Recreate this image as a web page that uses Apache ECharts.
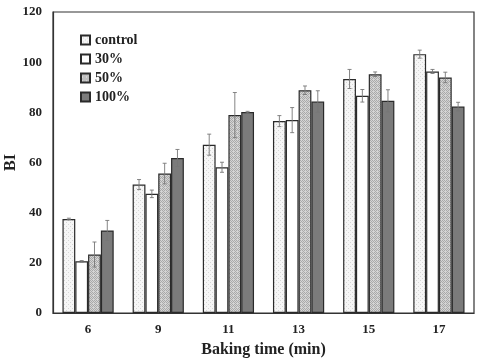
<!DOCTYPE html>
<html><head><meta charset="utf-8">
<script src="https://cdn.jsdelivr.net/npm/echarts@6/dist/echarts.min.js"></script>
<style>html,body{margin:0;padding:0;background:#fff}#c{width:485px;height:361px}</style>
</head><body><div id="c"></div>
<script>
var categories = ['6','9','11','13','15','17'];
var seriesNames = ['control','30%','50%','100%'];
var controlVals = [37.5, 51.2, 67.1, 76.5, 93.3, 103.2];
var p30Vals     = [20.6, 47.5, 58.1, 76.9, 86.6, 96.3];
var p50Vals     = [23.3, 55.6, 78.9, 88.8, 95.2, 93.9];
var p100Vals    = [32.9, 61.8, 80.1, 84.3, 84.6, 82.3];
var controlErr = [0.3, 2.0, 4.2, 2.2, 3.8, 1.6];
var p30Err     = [0.3, 1.5, 2.0, 5.0, 2.5, 0.8];
var p50Err     = [5.0, 4.1, 9.0, 1.7, 0.9, 2.1];
var p100Err    = [4.0, 3.4, 0.3, 4.3, 4.4, 1.7];

function pattern(bg, fg, pts, size) {
  var c = document.createElement('canvas');
  c.width = size; c.height = size;
  var g = c.getContext('2d');
  g.fillStyle = bg; g.fillRect(0,0,size,size);
  g.fillStyle = fg;
  pts.forEach(function(p){ g.fillRect(p[0],p[1],1,1); });
  return {image: c, repeat: 'repeat'};
}
var fills = [
  pattern('#f6f6f6', '#d6d6d6', [[0,0],[2,2]], 4),
  '#ffffff',
  pattern('#d4d4d4', '#a9a9a9', [[0,0],[2,0],[1,1],[0,2],[2,2],[3,3],[3,1]], 4),
  '#7b7b7b'
];
var vals = [controlVals, p30Vals, p50Vals, p100Vals];
var errs = [controlErr, p30Err, p50Err, p100Err];
var gapPct = 0.27;
var font = '"Liberation Serif", "Times New Roman", serif';

var series = [];
seriesNames.forEach(function(n, i){
  series.push({
    name: n, type: 'bar', data: vals[i],
    barGap: '0%', barCategoryGap: (gapPct*100)+'%',
    itemStyle: {color: fills[i], borderColor: '#2a2a2a', borderWidth: 1.2},
    emphasis: {disabled: true}
  });
});
seriesNames.forEach(function(n, i){
  var data = vals[i].map(function(v, k){ return [k, v, errs[i][k]]; });
  series.push({
    type: 'custom', silent: true, z: 10,
    data: data,
    renderItem: function(params, api){
      var k = api.value(0), v = api.value(1), e = api.value(2);
      var band = api.size([1,0])[0];
      var gw = band*(1-gapPct), w = gw/4;
      var c = api.coord([k, v]);
      var x = c[0] - gw/2 + w*(i+0.5);
      var yt = api.coord([k, v+e])[1], yb = api.coord([k, v-e])[1];
      var st = {stroke: '#777', lineWidth: 0.9};
      return {type: 'group', children: [
        {type:'line', shape:{x1:x,y1:yt,x2:x,y2:yb}, style: st},
        {type:'line', shape:{x1:x-2,y1:yt,x2:x+2,y2:yt}, style: st},
        {type:'line', shape:{x1:x-2,y1:yb,x2:x+2,y2:yb}, style: st}
      ]};
    }
  });
});

var chart = echarts.init(document.getElementById('c'), null, {renderer: 'canvas'});
chart.setOption({
  animation: false,
  backgroundColor: '#fff',
  grid: {left: 53, right: 11, top: 12, bottom: 48, outerBoundsMode: 'none', containLabel: false,
         show: true, borderColor: '#333', borderWidth: 1.2, backgroundColor: 'transparent'},
  legend: {
    data: seriesNames, orient: 'vertical', left: 75, top: 28, icon: 'rect',
    itemWidth: 9, itemHeight: 9, itemGap: 5, selectedMode: false,
    textStyle: {fontFamily: font, fontWeight: 'bold', fontSize: 14, color: '#222', lineHeight: 14}
  },
  xAxis: {
    type: 'category', data: categories,
    name: 'Baking time (min)', nameLocation: 'middle', nameGap: 29, nameMoveOverlap: false,
    nameTextStyle: {fontFamily: font, fontWeight: 'bold', fontSize: 16, color: '#222'},
    axisLine: {lineStyle: {color: '#333', width: 1.2}},
    axisTick: {show: false},
    axisLabel: {fontFamily: font, fontWeight: 'bold', fontSize: 13, color: '#222', margin: 10}
  },
  yAxis: {
    type: 'value', min: 0, max: 120, interval: 20,
    name: 'BI', nameLocation: 'middle', nameGap: 34, nameRotate: 90, nameMoveOverlap: false,
    nameTextStyle: {fontFamily: font, fontWeight: 'bold', fontSize: 16, color: '#222'},
    axisLine: {show: true, lineStyle: {color: '#333', width: 1.2}},
    axisTick: {show: false},
    splitLine: {show: false},
    axisLabel: {fontFamily: font, fontWeight: 'bold', fontSize: 13, color: '#222', margin: 11}
  },
  series: series
});
</script></body></html>
